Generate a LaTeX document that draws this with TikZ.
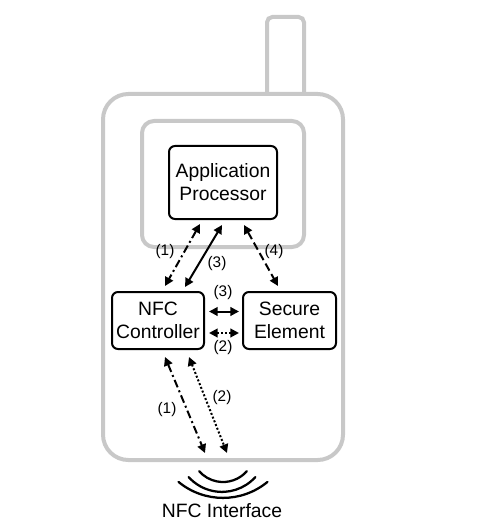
\documentclass[tikz,border=0pt]{standalone}
\usepackage{fontspec}
\setmainfont{Liberation Sans}
\usetikzlibrary{arrows.meta,calc}
\definecolor{phonegray}{RGB}{200,200,200}
\tikzset{
  phoneline/.style={draw=phonegray, line width=3pt},
  blockbox/.style={draw=black, line width=1.5pt, rounded corners=4.5pt, inner sep=0pt,
    align=center, font=\fontsize{14.5}{17.25}\selectfont},
  conn/.style={line width=1.5pt, {Triangle[length=6.5pt,width=6.5pt]}-{Triangle[length=6.5pt,width=6.5pt]}},
  dashdot/.style={dash pattern=on 6pt off 2.5pt on 1.5pt off 2.5pt},
  dashline/.style={dash pattern=on 6pt off 3pt},
  dotline/.style={dash pattern=on 1.5pt off 1.5pt},
  lbl/.style={font=\fontsize{11.5}{13}\selectfont, inner sep=0pt},
  wave/.style={line width=1.7pt, line cap=round}
}
\begin{document}
\begin{tikzpicture}[x=0.75pt,y=-0.75pt]
\useasboundingbox (0,0) rectangle (480,527);
% antenna
\draw[phoneline, rounded corners=4pt] (267,94) -- (267,17) -- (304,17) -- (304,94);
% body
\draw[phoneline, fill=white, rounded corners=19pt] (103,94) rectangle (343,460);
% screen
\draw[phoneline, rounded corners=9pt] (142,121) rectangle (304,247);
% blocks
\node[blockbox, minimum width=81pt, minimum height=54.75pt] (ap) at (223,182.5) {Application\\Processor};
\node[blockbox, minimum width=69pt, minimum height=42.75pt] (nfc) at (158,320.5) {NFC\\Controller};
\node[blockbox, minimum width=69.75pt, minimum height=42.75pt] (se) at (289.5,320.5) {Secure\\Element};
% connectors AP - NFC / SE
\draw[conn, dashdot] ($(ap.south)+(-23,4)$) -- ($(nfc.north)+(7,-5)$);
\draw[conn] ($(ap.south)+(-1,5)$) -- ($(nfc.north)+(27,-4)$);
\draw[conn, dashline] ($(ap.south)+(21,5)$) -- ($(se.north)+(-11.5,-5)$);
\node[lbl] (l1) at (165,252) {(1)};
\node[lbl] (l3) at (217,264) {(3)};
\node[lbl] (l4) at (274,252) {(4)};
% NFC - SE
\draw[conn] ($(nfc.east)+(4,-9)$) -- ($(se.west)+(-3,-9)$);
\draw[conn, dotline] ($(nfc.east)+(4,12.5)$) -- ($(se.west)+(-3,12.5)$);
\node[lbl] (l3h) at (223,293) {(3)};
\node[lbl] (l2h) at (223,348) {(2)};
% NFC - interface
\coordinate (rf1) at (205,453);
\coordinate (rf2) at (227,453);
\draw[conn, dashdot] ($(nfc.south)+(7,7)$) -- (rf1);
\draw[conn, dotline] ($(nfc.south)+(31,7)$) -- (rf2);
\node[lbl] (l1b) at (167,410) {(1)};
\node[lbl] (l2b) at (222,398) {(2)};
% waves
\coordinate (w1) at (223,450.3);
\coordinate (w2) at (222,447);
\coordinate (w3) at (223,428);
\draw[wave] (w1) ++(41:31.7) arc[start angle=41, end angle=139, radius=31.7];
\draw[wave] (w2) ++(42:44.9) arc[start angle=42, end angle=138, radius=44.9];
\draw[wave] (w3) ++(50.5:69.9) arc[start angle=50.5, end angle=129.5, radius=69.9];
\node[font=\fontsize{14.5}{17}\selectfont, anchor=base, inner sep=0pt] (nfci) at (222,517) {NFC Interface};
\end{tikzpicture}
\end{document}
